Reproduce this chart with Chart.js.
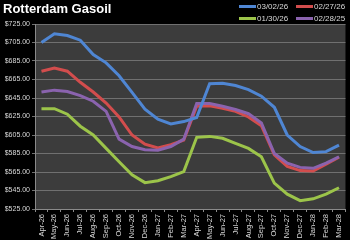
<!DOCTYPE html>
<html>
<head>
<meta charset="utf-8">
<script src="https://cdn.jsdelivr.net/npm/chart.js@4.4.1/dist/chart.umd.min.js"></script>
<style>
  html, body { margin: 0; padding: 0; background: #000; }
  #wrap { position: relative; width: 350px; height: 240px; }
  #title { position: absolute; left: 3px; top: 1px; color: #fff; font: bold 13px 'Liberation Sans', Arial, sans-serif; }
  #legend { position: absolute; left: 239px; top: 1px; display: grid; grid-template-columns: 57px 57px; row-gap: 1px; }
  .item { display: flex; align-items: center; height: 11px; font: 8px 'Liberation Sans', Arial, sans-serif; color: #d9d9d9; }
  .item i { display: inline-block; width: 17px; height: 3px; margin-right: 1px; }
</style>
</head>
<body>
<div id="wrap">
  <canvas id="gasoil" width="350" height="240"></canvas>
  <div id="title">Rotterdam Gasoil</div>
  <div id="legend"></div>
</div>
<script>
// contract months on the curve
const months = ['Apr-26','May-26','Jun-26','Jul-26','Aug-26','Sep-26','Oct-26','Nov-26','Dec-26','Jan-27','Feb-27','Mar-27',
                'Apr-27','May-27','Jun-27','Jul-27','Aug-27','Sep-27','Oct-27','Nov-27','Dec-27','Jan-28','Feb-28','Mar-28'];

// forward curves by snapshot date ($/t)
const curve030226 = [705, 714.5, 712.5, 707.5, 692, 683, 669, 651, 633, 622, 617, 619.5,
                     624, 660.5, 661, 658.5, 654, 647, 635, 605, 592.5, 586, 587, 594];
const curve022726 = [674, 677.5, 674, 662, 651.5, 639.5, 624.5, 605, 595, 591, 594.5, 599.5,
                     636, 636.5, 634, 630.5, 624.5, 615, 583.5, 571, 566.5, 566, 573.5, 581];
const curve013026 = [633.5, 633.5, 627.5, 614.5, 605, 590.5, 576, 562, 553.5, 555.5, 560, 565.5,
                     602.5, 603.5, 601.5, 596, 590.5, 581.5, 553, 541, 534, 536, 541, 548];
const curve022825 = [651.5, 653.5, 652, 647.5, 641.5, 630.5, 600.5, 592.5, 589, 588.5, 592.5, 600.5,
                     639, 639, 636, 632.5, 628, 618, 585, 574.5, 570, 569, 574.5, 581.5];

const seriesNames = ['03/02/26', '02/27/26', '01/30/26', '02/28/25'];
const seriesColors = ['#4f86d3', '#d24d4d', '#9cc44a', '#8a63ae'];
const seriesData = [curve030226, curve022726, curve013026, curve022825];
const drawOrder = [0, 2, 3, 1]; // purple sits on top of red

// y axis range
const yMin = 525, yMax = 725, yStep = 20;

// legend as html, two per row
const legendEl = document.getElementById('legend');
seriesNames.forEach((name, i) => {
    const d = document.createElement('div');
    d.className = 'item';
    d.innerHTML = '<i style="background:' + seriesColors[i] + '"></i>' + name;
    legendEl.appendChild(d);
});

// dark grey plot area
const plotBg = {
    id: 'plotBg',
    beforeDraw: (chart) => {
        const { ctx, chartArea: a } = chart;
        ctx.save();
        ctx.fillStyle = '#3c3c3c';
        ctx.fillRect(a.left, a.top, a.right - a.left, a.bottom - a.top);
        ctx.restore();
    }
};

new Chart(document.getElementById('gasoil').getContext('2d'), {
    type: 'line',
    data: {
        labels: months,
        datasets: seriesData.map((d, i) => ({
            label: seriesNames[i],
            data: d,
            borderColor: seriesColors[i],
            backgroundColor: seriesColors[i],
            borderWidth: 3,
            pointRadius: 0,
            tension: 0,
            order: drawOrder[i]
        }))
    },
    options: {
        responsive: false,
        animation: false,
        layout: { padding: { top: 24, right: 0, left: 0, bottom: 0 } },
        plugins: { legend: { display: false }, tooltip: { enabled: false } },
        scales: {
            x: {
                offset: true,
                grid: { display: true, drawOnChartArea: false, drawTicks: true, tickLength: 3, color: '#8a8a8a', offset: true },
                border: { display: true, color: '#8a8a8a' },
                ticks: { color: '#d9d9d9', font: { family: 'Liberation Sans', size: 7.5 }, maxRotation: 90, minRotation: 90, autoSkip: false, padding: 2 },
                afterFit: (s) => { s.height = 31; }
            },
            y: {
                min: yMin, max: yMax,
                grid: { color: '#707070', lineWidth: 1, drawTicks: true, tickLength: 3 },
                border: { display: true, color: '#8a8a8a' },
                ticks: { stepSize: yStep, color: '#d9d9d9', font: { family: 'Liberation Sans', size: 7 }, padding: 2,
                         callback: (v) => '$' + v.toFixed(2) },
                afterFit: (s) => { s.width = 35; }
            }
        }
    },
    plugins: [plotBg]
});
</script>
</body>
</html>
